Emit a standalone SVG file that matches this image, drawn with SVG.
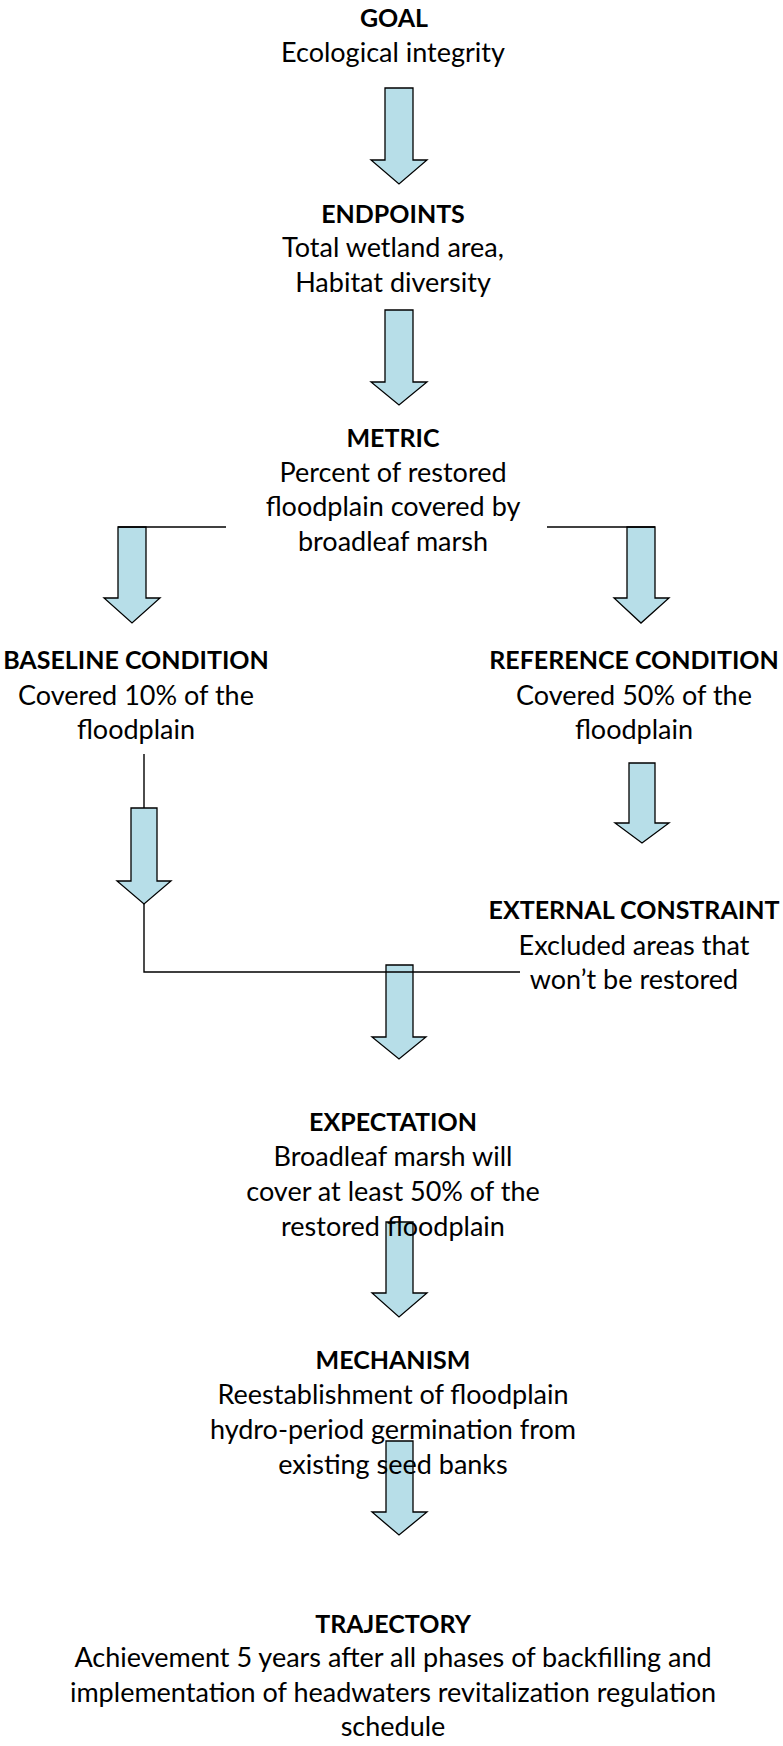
<svg xmlns="http://www.w3.org/2000/svg" width="783" height="1746" viewBox="0 0 783 1746">
  <style>
    .bg { fill: #ffffff; }
    .arrow { fill: #b7dee8; stroke: #000000; stroke-width: 1.3; stroke-linejoin: miter; }
    .wire { fill: none; stroke: #000000; stroke-width: 1.4; }
    text { font-family: Lato, "Open Sans", "Liberation Sans", sans-serif; font-size: 27px; fill: #000000; text-anchor: middle; }
    .head { font-weight: bold; font-size: 25px; }
  </style>
  <rect class="bg" x="0" y="0" width="783" height="1746"/>

  <!-- block arrows and plain connector lines -->
  <g id="connectors">
    <polygon class="arrow" points="385,88 413,88 413,160 427,160 399,184 371,160 385,160"/>
    <polygon class="arrow" points="385,310 413,310 413,382 427,382 399,405 371,382 385,382"/>
    <polygon class="arrow" points="118,527 146,527 146,598 160,598 132,623 104,598 118,598"/>
    <polygon class="arrow" points="627,527 655,527 655,598 669,598 641,623 614,598 627,598"/>
    <polygon class="arrow" points="131,808 157,808 157,881 171,881 144,904 117,881 131,881"/>
    <polygon class="arrow" points="629,763 655,763 655,823 669,823 642,843 615,823 629,823"/>
    <polygon class="arrow" points="386,965 413,965 413,1037 426,1037 399,1059 372,1037 386,1037"/>
    <polygon class="arrow" points="386,1222 413,1222 413,1293 427,1293 399,1317 372,1293 386,1293"/>
    <polygon class="arrow" points="386,1441 413,1441 413,1512 427,1512 399,1535 372,1512 386,1512"/>
    <path class="wire" d="M226,527 H118"/>
    <path class="wire" d="M547,527 H655"/>
    <path class="wire" d="M144,754 V808"/>
    <path class="wire" d="M144,904 V972 H520"/>
  </g>

  <g id="goal">
    <text class="head" x="394" y="27">GOAL</text>
    <text x="393" y="62">Ecological integrity</text>
  </g>

  <g id="endpoints">
    <text class="head" x="393" y="223">ENDPOINTS</text>
    <text x="393" y="257">Total wetland area,</text>
    <text x="393" y="292">Habitat diversity</text>
  </g>

  <g id="metric">
    <text class="head" x="393" y="447">METRIC</text>
    <text x="393" y="482">Percent of restored</text>
    <text x="393" y="516">floodplain covered by</text>
    <text x="393" y="551">broadleaf marsh</text>
  </g>

  <g id="baseline-condition">
    <text class="head" x="136" y="669">BASELINE CONDITION</text>
    <text x="136" y="705">Covered 10% of the</text>
    <text x="136" y="739">floodplain</text>
  </g>

  <g id="reference-condition">
    <text class="head" x="634" y="669">REFERENCE CONDITION</text>
    <text x="634" y="705">Covered 50% of the</text>
    <text x="634" y="739">floodplain</text>
  </g>

  <g id="external-constraint">
    <text class="head" x="634" y="919">EXTERNAL CONSTRAINT</text>
    <text x="634" y="955">Excluded areas that</text>
    <text x="634" y="989">won’t be restored</text>
  </g>

  <g id="expectation">
    <text class="head" x="393" y="1131">EXPECTATION</text>
    <text x="393" y="1166">Broadleaf marsh will</text>
    <text x="393" y="1201">cover at least 50% of the</text>
    <text x="393" y="1236">restored floodplain</text>
  </g>

  <g id="mechanism">
    <text class="head" x="393" y="1369">MECHANISM</text>
    <text x="393" y="1404">Reestablishment of floodplain</text>
    <text x="393" y="1439">hydro-period germination from</text>
    <text x="393" y="1474">existing seed banks</text>
  </g>

  <g id="trajectory">
    <text class="head" x="393" y="1633">TRAJECTORY</text>
    <text x="393" y="1667">Achievement 5 years after all phases of backfilling and</text>
    <text x="393" y="1702">implementation of headwaters revitalization regulation</text>
    <text x="393" y="1736">schedule</text>
  </g>
</svg>
